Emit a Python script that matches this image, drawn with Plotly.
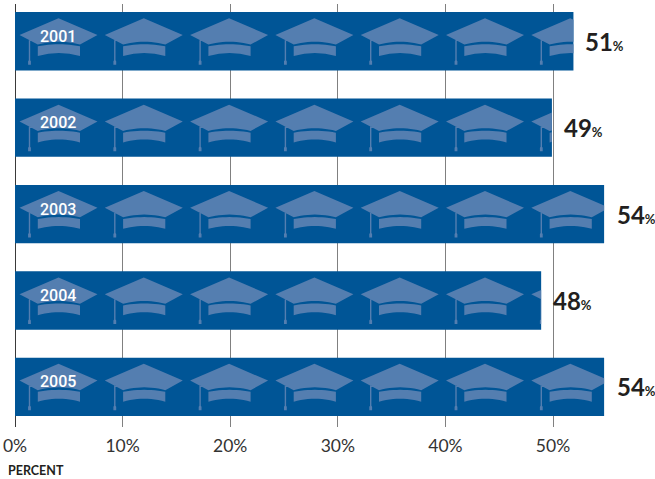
import plotly.graph_objects as go

years = ["2001", "2002", "2003", "2004", "2005"]
bar_values = [51.9, 49.9, 54.75, 48.9, 54.75]
labels = ["51", "49", "54", "48", "54"]
ticks = [0, 10, 20, 30, 40, 50]

BAR = "#005596"
CAP = "#547eb0"
PX_X = 10.76   # pixels per percent
PX_Y = 86.4    # pixels per category
CAP_STEP = 85.3
CAP_COUNT = 7


def arc(x0, x1, y_edge, y_mid, n=12):
    pts = []
    for i in range(n + 1):
        t = i / n
        pts.append((x0 + (x1 - x0) * t, y_edge + (y_mid - y_edge) * 4 * t * (1 - t)))
    return pts


# cap outline in pixels, relative to cap centre (x) and bar centre (y)
BOARD = [(-39, -6.3), (0, -23), (39, -6.3), (21.5, 3.3)] + arc(21.5, -20.7, 3.3, 0.5)[1:-1] + [(-20.7, 3.3)]
BAND = arc(-20.7, 21.5, 5.0, 3.0) + arc(21.5, -20.7, 14.8, 11.8)
TASSEL = [(-29.7, -1), (-28.3, -1), (-28.3, 19), (-27.6, 20), (-27.6, 23.5), (-30.4, 23.5), (-30.4, 20), (-29.7, 19)]


def clip_right(poly, xmax):
    out = []
    for i, a in enumerate(poly):
        b = poly[(i + 1) % len(poly)]
        if a[0] <= xmax:
            out.append(a)
        if (a[0] <= xmax) != (b[0] <= xmax):
            t = (xmax - a[0]) / (b[0] - a[0])
            out.append((xmax, a[1] + (b[1] - a[1]) * t))
    return out


def cap_path(row, value):
    end_px = value * PX_X
    d = []
    for c in range(CAP_COUNT):
        cx = 43.5 + c * CAP_STEP
        for part in (BOARD, BAND, TASSEL):
            poly = clip_right([(cx + x, y) for x, y in part], end_px)
            if len(poly) < 3:
                continue
            d.append("M" + "L".join(f"{x / PX_X:.4f},{row + y / PX_Y:.4f}" for x, y in poly) + "Z")
    return "".join(d)


fig = go.Figure(go.Bar(
    x=bar_values, y=list(range(len(years))), orientation="h",
    marker=dict(color=BAR, line_width=0), hoverinfo="skip", showlegend=False,
))

shapes = [dict(type="path", path=cap_path(i, v), xref="x", yref="y", layer="above",
               fillcolor=CAP, line_width=0) for i, v in enumerate(bar_values)]

annotations = []
for i, (y, v, lab) in enumerate(zip(years, bar_values, labels)):
    annotations.append(dict(x=0, y=i, xref="x", yref="y", text=y, showarrow=False,
                            xanchor="center", xshift=43, yshift=5,
                            font=dict(family="Roboto", size=16, weight=500, color="white")))
    annotations.append(dict(x=v, y=i, xref="x", yref="y", showarrow=False, xanchor="left",
                            xshift=11 if v > 54 else 10, yshift=0,
                            text=f"<b>{lab}</b><span style='font-size:13px'><b>%</b></span>",
                            font=dict(family="Lato", size=24, color="#231f20")))
annotations.append(dict(xref="paper", yref="paper", x=-9 / 640, y=-43 / 423, xanchor="left", yanchor="middle",
                        text="<b>PERCENT</b>", showarrow=False, font=dict(family="Lato", size=12.5, color="#231f20")))

fig.update_layout(
    width=655, height=479, autosize=False,
    margin=dict(l=15, r=0, t=4, b=52),
    paper_bgcolor="white", plot_bgcolor="white",
    bargap=0.325, shapes=shapes, annotations=annotations,
    xaxis=dict(range=[0, 59.48], tickmode="array", tickvals=ticks, ticktext=[f"{t}%" for t in ticks],
               showgrid=True, gridcolor="#808080", gridwidth=1, zeroline=True, zerolinecolor="#3a3a3a",
               zerolinewidth=1, showline=False, ticks="", ticklabelstandoff=6,
               tickfont=dict(family="Lato", size=17.5, color="#333333")),
    yaxis=dict(range=[4.4645, -0.4315], showticklabels=False, showgrid=False, zeroline=False, ticks=""),
)

fig.write_html("out.html", config=dict(displayModeBar=False),
               post_script="document.documentElement.style.overflow='hidden';document.body.style.margin='0';window.dispatchEvent(new Event('resize'));")
